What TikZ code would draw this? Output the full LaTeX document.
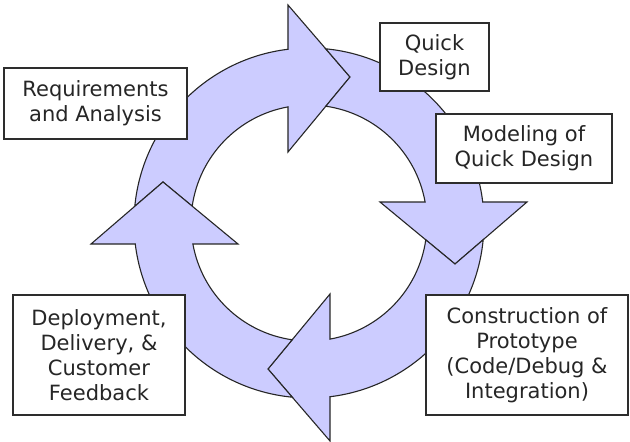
\documentclass[tikz,border=0pt]{standalone}
\usepackage{fontspec}
\setmainfont{DejaVu Sans}
\definecolor{ringfill}{RGB}{204,204,255}
\definecolor{boxline}{RGB}{45,45,45}
\begin{document}
\begin{tikzpicture}[x=1pt,y=1pt]
\useasboundingbox (-309,-219) rectangle (321,223);
\tikzstyle{ringarrow}=[fill=ringfill,draw=black!85,line width=1.1pt,line join=miter]
% the four arrows of the ring, clockwise
\draw[ringarrow] (174.5:175) arc[start angle=174.5,end angle=96.9,radius=175]
 -- (-21,218) -- (41,146) -- (-21,71)
 -- (100.25:118) arc[start angle=100.25,end angle=171.8,radius=118]
 -- (-146,41) -- cycle;
\draw[ringarrow,rotate=-90] (174.5:175) arc[start angle=174.5,end angle=96.9,radius=175]
 -- (-21,218) -- (41,146) -- (-21,71)
 -- (100.25:118) arc[start angle=100.25,end angle=171.8,radius=118]
 -- (-146,41) -- cycle;
\draw[ringarrow,rotate=-180] (174.5:175) arc[start angle=174.5,end angle=96.9,radius=175]
 -- (-21,218) -- (41,146) -- (-21,71)
 -- (100.25:118) arc[start angle=100.25,end angle=171.8,radius=118]
 -- (-146,41) -- cycle;
\draw[ringarrow,rotate=-270] (174.5:175) arc[start angle=174.5,end angle=96.9,radius=175]
 -- (-21,218) -- (41,146) -- (-21,71)
 -- (100.25:118) arc[start angle=100.25,end angle=171.8,radius=118]
 -- (-146,41) -- cycle;
% the steps
\tikzstyle{every node}=[draw=boxline,line width=1.3pt,fill=white,align=center,inner sep=0pt,
 text=black!85,font=\fontsize{21}{25}\selectfont]
\node[minimum width=183pt,minimum height=71pt] (req) at (-213.5,119.5) {Requirements\\and Analysis};
\node[minimum width=109pt,minimum height=68pt] (quick) at (125.5,166) {Quick\\Design};
\node[minimum width=176pt,minimum height=69pt] (model) at (215,74.5) {Modeling of\\Quick Design};
\node[minimum width=202pt,minimum height=120pt] (build) at (218,-132) {Construction of\\Prototype\\(Code/Debug \&\\Integration)};
\node[minimum width=172pt,minimum height=120pt] (deploy) at (-210,-132) {Deployment,\\Delivery, \&\\Customer\\Feedback};
\end{tikzpicture}
\end{document}
